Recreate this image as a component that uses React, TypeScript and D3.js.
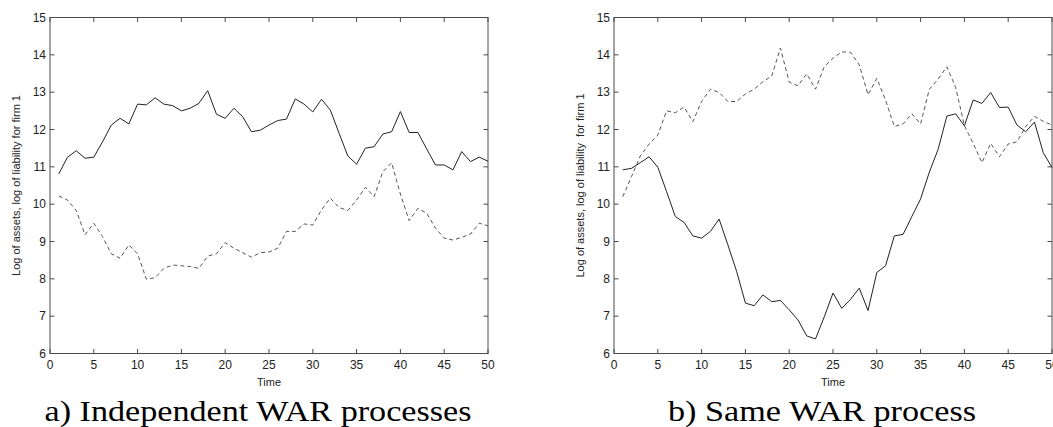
import React, { useEffect } from "react";
import * as d3 from "d3";

const time = d3.range(1, 51);

const leftAssets = [10.81, 11.26, 11.43, 11.23, 11.26, 11.67, 12.12, 12.3, 12.15, 12.68, 12.66, 12.85, 12.68, 12.64, 12.5, 12.57, 12.7, 13.04, 12.41, 12.3, 12.57, 12.34, 11.94, 11.98, 12.12, 12.24, 12.28, 12.82, 12.68, 12.47, 12.81, 12.52, 11.9, 11.29, 11.07, 11.5, 11.54, 11.88, 11.94, 12.48, 11.92, 11.92, 11.48, 11.05, 11.05, 10.92, 11.41, 11.14, 11.26, 11.15];
const leftLiab = [10.22, 10.11, 9.83, 9.18, 9.49, 9.13, 8.67, 8.55, 8.91, 8.67, 7.99, 8.03, 8.28, 8.37, 8.35, 8.33, 8.28, 8.61, 8.67, 8.97, 8.82, 8.7, 8.58, 8.7, 8.72, 8.82, 9.27, 9.27, 9.47, 9.44, 9.85, 10.16, 9.91, 9.83, 10.11, 10.45, 10.2, 10.87, 11.11, 10.27, 9.56, 9.89, 9.76, 9.36, 9.09, 9.04, 9.11, 9.2, 9.49, 9.42];
const rightAssets = [10.92, 10.96, 11.11, 11.27, 10.99, 10.34, 9.67, 9.51, 9.15, 9.09, 9.27, 9.6, 8.91, 8.2, 7.35, 7.28, 7.57, 7.39, 7.42, 7.17, 6.9, 6.47, 6.39, 6.98, 7.62, 7.21, 7.45, 7.75, 7.15, 8.17, 8.35, 9.15, 9.19, 9.67, 10.14, 10.86, 11.47, 12.36, 12.42, 12.1, 12.79, 12.7, 12.99, 12.59, 12.6, 12.12, 11.94, 12.2, 11.38, 10.98];
const rightLiab = [10.2, 10.74, 11.29, 11.61, 11.85, 12.5, 12.45, 12.6, 12.21, 12.75, 13.08, 12.99, 12.75, 12.75, 12.95, 13.08, 13.28, 13.43, 14.18, 13.27, 13.17, 13.49, 13.08, 13.68, 13.91, 14.08, 14.07, 13.73, 12.93, 13.37, 12.79, 12.08, 12.15, 12.42, 12.15, 13.08, 13.35, 13.68, 13.13, 12.1, 11.63, 11.11, 11.63, 11.27, 11.61, 11.67, 12.08, 12.35, 12.22, 12.12];

const xTicks = [0, 5, 10, 15, 20, 25, 30, 35, 40, 45, 50];
const yTicks = [6, 7, 8, 9, 10, 11, 12, 13, 14, 15];

const panels = [
  {
    left: 50,
    assets: leftAssets,
    liab: leftLiab,
    ylabel: "Log of assets, log of liability for firm 1",
    caption: "a) Independent WAR processes",
    capWidth: 427,
  },
  {
    left: 614,
    assets: rightAssets,
    liab: rightLiab,
    ylabel: "Log of assets, log of liability\u00a0 for firm 1",
    caption: "b) Same WAR process",
    capWidth: 308,
  },
];

const W = 438;
const TOP = 17.5;
const BOTTOM = 353.5;

function Panel({ p }: { p: (typeof panels)[number] }) {
  const x = d3.scaleLinear().domain([0, 50]).range([p.left, p.left + W]);
  const y = d3.scaleLinear().domain([6, 15]).range([BOTTOM, TOP]);
  const line = d3
    .line<number>()
    .x((_, i) => x(time[i]))
    .y((d) => y(d));
  const axisColor = "#4a4a4a";
  const tl = 4.5;
  const font = "'Liberation Sans', Arial, sans-serif";
  const capCenter = p.left + W / 2 - 11;
  return (
    <g>
      <rect x={x(0)} y={y(15)} width={x(50) - x(0)} height={y(6) - y(15)} fill="white" stroke={axisColor} strokeWidth={1} />
      {xTicks.map((t) => (
        <g key={"x" + t}>
          <line x1={x(t)} x2={x(t)} y1={y(6)} y2={y(6) - tl} stroke={axisColor} />
          <line x1={x(t)} x2={x(t)} y1={y(15)} y2={y(15) + tl} stroke={axisColor} />
          <text x={x(t)} y={y(6) + 15} fontSize={12} fontFamily={font} textAnchor="middle" fill="#222">
            {t}
          </text>
        </g>
      ))}
      {yTicks.map((t) => (
        <g key={"y" + t}>
          <line x1={x(0)} x2={x(0) + tl} y1={y(t)} y2={y(t)} stroke={axisColor} />
          <line x1={x(50)} x2={x(50) - tl} y1={y(t)} y2={y(t)} stroke={axisColor} />
          <text x={x(0) - 4} y={y(t) + 4} fontSize={12} fontFamily={font} textAnchor="end" fill="#222">
            {t}
          </text>
        </g>
      ))}
      <path d={line(p.liab) || ""} fill="none" stroke="#555" strokeWidth={1} strokeDasharray="4,3" />
      <path d={line(p.assets) || ""} fill="none" stroke="#222" strokeWidth={1} />
      <text
        transform={`translate(${p.left - 30},${(TOP + BOTTOM) / 2}) rotate(-90)`}
        fontSize={11}
        fontFamily={font}
        textAnchor="middle"
        fill="#222"
        style={{ whiteSpace: "pre" }}
      >
        {p.ylabel}
      </text>
      <text x={p.left + W / 2} y={BOTTOM + 32} fontSize={11} fontFamily={font} textAnchor="middle" fill="#222">
        Time
      </text>
      <text
        x={capCenter - p.capWidth / 2}
        y={421}
        fontSize={29}
        textLength={p.capWidth}
        lengthAdjust="spacingAndGlyphs"
        fontFamily="'Liberation Serif', 'DejaVu Serif', serif"
        fill="#000"
      >
        {p.caption}
      </text>
    </g>
  );
}

export default function App() {
  useEffect(() => {
    document.body.style.margin = "0";
  }, []);
  return (
    <svg width={1053} height={427} style={{ display: "block", position: "absolute", left: 0, top: 0, background: "white" }}>
      <rect width={1053} height={427} fill="white" />
      {panels.map((p, i) => (
        <Panel key={i} p={p} />
      ))}
    </svg>
  );
}
